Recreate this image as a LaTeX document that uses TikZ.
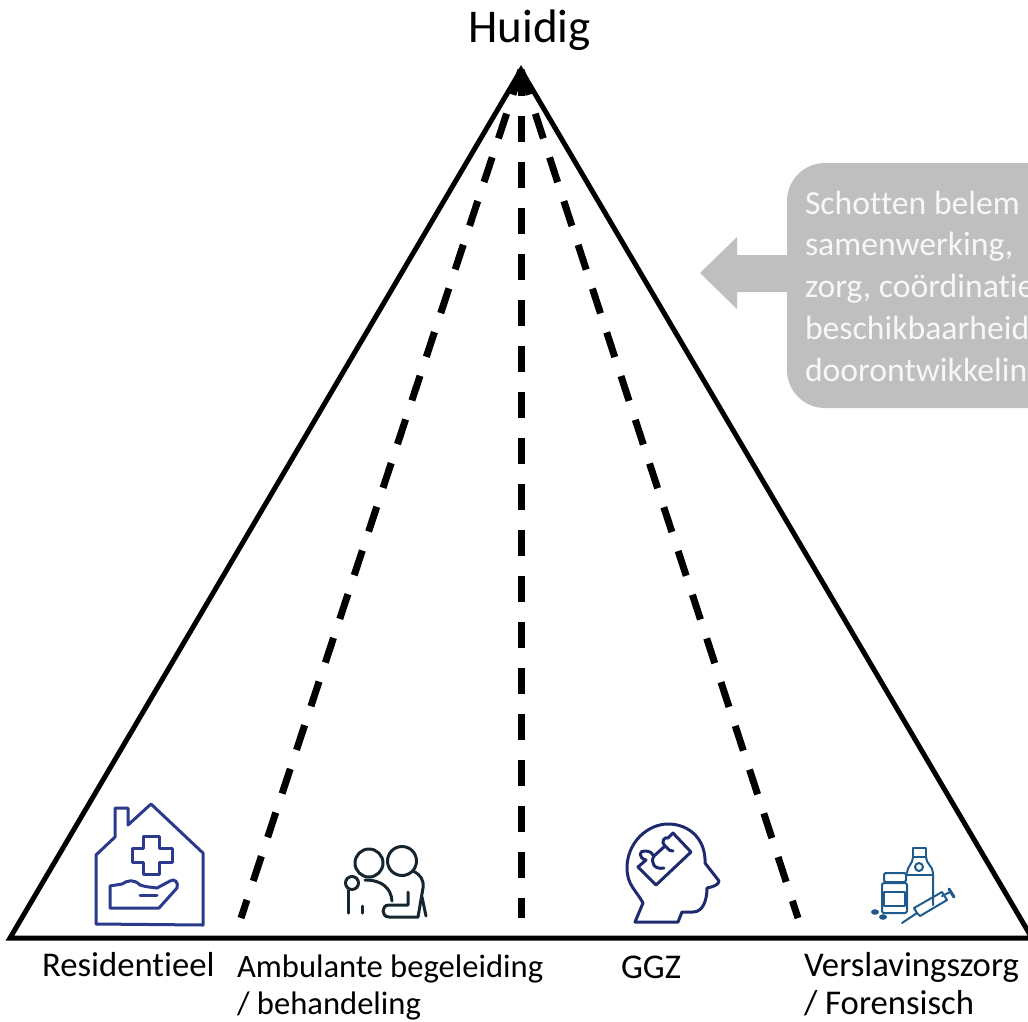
\documentclass[tikz,border=0pt]{standalone}
\usepackage{fontspec}
\setmainfont[Ligatures=CommonOff]{Carlito}
\definecolor{calloutgrey}{HTML}{BFBFBF}
\definecolor{housecol}{HTML}{2B3A8C}
\definecolor{peoplecol}{HTML}{17262E}
\definecolor{headcol}{HTML}{1F2A6E}
\definecolor{drugcol}{HTML}{1F5A8C}
\begin{document}
\begin{tikzpicture}[
        x=1pt, y=-1pt,
        line width=5pt,
        every node/.style={inner sep=0pt, outer sep=0pt},
        tagbig/.style={font=\fontsize{34.7}{40}\selectfont, anchor=base west},
        tagsmall/.style={font=\fontsize{32.6}{40}\selectfont, anchor=base west},
        schot/.style={line width=7pt, dash pattern=on 26pt off 20pt},
        icon/.style={line width=3pt, line join=round, line cap=round},
        iconthin/.style={line width=2pt, line join=round, line cap=round, drugcol}
    ]
    \useasboundingbox (0,0) rectangle (1028,1021);

    % Triangle
    \coordinate (top) at (521,70);
    \coordinate (left) at (10,938);
    \coordinate (right) at (1032,938);
    \draw[line join=miter] (left) -- (top) -- (right) -- cycle;

    % Dashed partitions
    \coordinate (foot1) at (241,918);
    \coordinate (foot2) at (521,918);
    \coordinate (foot3) at (798,918);
    \draw[schot] (top) -- (foot1);
    \draw[schot] (top) -- (foot2);
    \draw[schot] (top) -- (foot3);

    % Title and labels
    \node[font=\fontsize{47}{52}\selectfont, anchor=base] (huidig) at (529.5,42) {Huidig};
    \node[tagbig] (residentieel) at (42,976) {Residentieel};
    \node[tagsmall] (ambulant) at (237,977) {Ambulante begeleiding};
    \node[tagsmall] (behandeling) at (237,1014) {/ behandeling};
    \node[tagbig] (ggz) at (621,978) {GGZ};
    \node[tagbig] (verslaving) at (804,976) {Verslavingszorg};
    \node[tagbig] (forensisch) at (804,1014) {/ Forensisch};

    % Grey callout with arrow
    \fill[calloutgrey, rounded corners=38pt] (787,163) rectangle (1090,408);
    \fill[calloutgrey] (700,273) -- (737,237) -- (737,255) -- (790,255)
      -- (790,292) -- (737,292) -- (737,309) -- cycle;
    \node[text=white!97!black, font=\fontsize{33.7}{41.75}\selectfont, align=left, anchor=base west] (schotten) at (805,381)
      {Schotten belem\\samenwerking,\\zorg, coördinatie\\beschikbaarheid\\doorontwikkeling};

    % House icon
    \draw[icon, housecol] (96,924) -- (96,855) -- (115,837) -- (115,808) -- (128,808) -- (128,825)
      -- (151,804) -- (203,853) -- (203,925) -- cycle;
    \draw[icon, housecol] (143,836) -- (159,836) -- (159,848) -- (172,848) -- (172,862) -- (159,862)
      -- (159,874) -- (143,874) -- (143,862) -- (132,862) -- (132,848) -- (143,848) -- cycle;
    \draw[icon, housecol] (110,886) -- (110,908) -- (159,908) -- (177,888)
      .. controls (179,882) and (174,878) .. (170,881) -- (157,888)
      .. controls (150,887) and (146,887) .. (140,885)
      .. controls (134,879) and (128,880) .. (122,884) -- cycle;
    \draw[icon, housecol] (140,895) -- (157,895);

    % People icon
    \draw[icon, peoplecol] (369,863) circle (14);
    \draw[icon, peoplecol] (402,861) circle (14.5);
    \draw[icon, peoplecol] (352,883) circle (6.5);
    \draw[icon, peoplecol] (348,890) -- (348,913);
    \draw[icon, peoplecol] (362,906) -- (362,913);
    \draw[icon, peoplecol] (365,880) .. controls (382,880) and (391,888) .. (392,901);
    \draw[icon, peoplecol] (413,871) .. controls (421,875) and (424,880) .. (423,888) -- (418,917);
    \draw[icon, peoplecol] (422,897) -- (426,916);
    \draw[icon, peoplecol] (408,892) -- (408,905) -- (389,905)
      .. controls (381,905) and (381,917) .. (389,917) -- (418,917);

    % Head icon
    \draw[icon, headcol] (635,922) -- (643,903) .. controls (636,890) and (627,885) .. (627,868)
      .. controls (627,842) and (648,824) .. (668,824)
      .. controls (690,824) and (706,840) .. (705,863) -- (719,881)
      .. controls (719,885) and (712,887) .. (707,888)
      .. controls (707,900) and (703,912) .. (693,912) -- (682,912) -- (678,922) -- cycle;
    \draw[icon, headcol] (673,833) -- (691,852) -- (656,885) -- (638,867) -- (646,860)
      .. controls (638,858) and (639,850) .. (645,851)
      .. controls (650,851) and (652,853) .. (654,856) -- (665,846)
      .. controls (660,842) and (665,836) .. (668,838) -- cycle;
    \draw[icon, headcol] (654,856) .. controls (650,862) and (654,870) .. (664,868);
    \draw[icon, headcol] (665,846) .. controls (670,850) and (670,852) .. (673,851);

    % Bottles icon
    \draw[iconthin] (913,857) -- (913,848) -- (926,848) -- (926,857) -- cycle;
    \draw[iconthin] (913,857) .. controls (913,864) and (907,866) .. (907,873) (926,857) .. controls (926,864) and (933,866) .. (933,873) -- (933,905);
    \draw[iconthin] (907,875) -- (933,875);
    \draw[iconthin] (919,867) circle (4);
    \draw[iconthin, rounded corners=2pt] (884,873) rectangle (906,882);
    \draw[iconthin, rounded corners=2pt] (882,883) rectangle (907,913);
    \draw[iconthin, line width=1.4pt] (884,892) rectangle (905,906);
    \fill[drugcol] (875,912) ellipse (4 and 2.8);
    \fill[drugcol] (883,917) ellipse (4 and 2.8);
    \draw[iconthin] (902,923) -- (917,913);
    \draw[iconthin] (917,913) -- (914,908) -- (942,892) -- (947,900) -- (920,916) -- cycle;
    \draw[iconthin] (942,896) -- (950,892);
    \draw[iconthin, line width=3pt] (949,889) -- (954,897);
\end{tikzpicture}
\end{document}
